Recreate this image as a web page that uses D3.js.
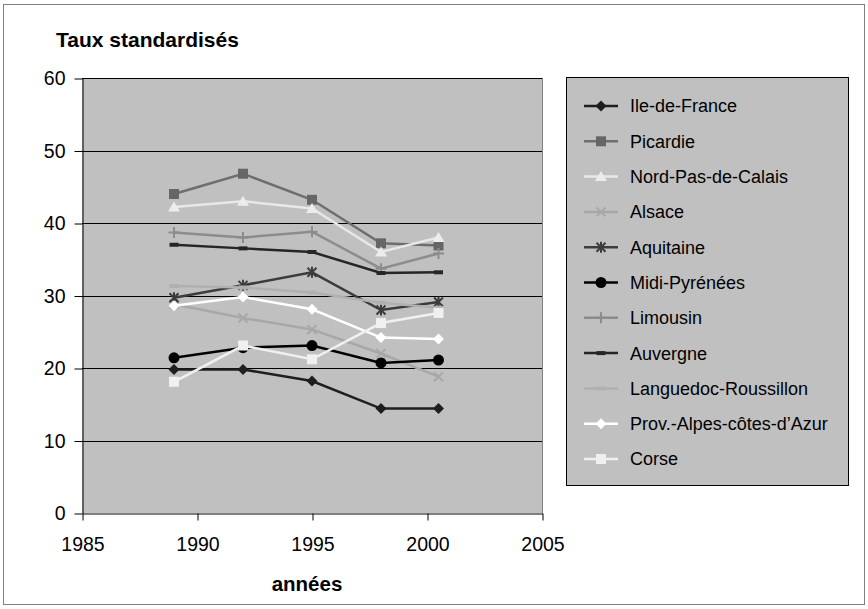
<!DOCTYPE html>
<html>
<head>
<meta charset="utf-8">
<script src="https://cdn.jsdelivr.net/npm/d3@7"></script>
<style>
  body { margin: 0; background: #fff; }
  svg { display: block; font-family: "Liberation Sans", Arial, sans-serif; }
</style>
</head>
<body>
<svg id="chart" width="868" height="609"></svg>
<script>
// Survey years
const years = [1989, 1992, 1995, 1998, 2000.5];

// Standardised rates per region
const ileDeFrance   = [19.8, 19.8, 18.2, 14.4, 14.4];
const picardie      = [44.0, 46.8, 43.2, 37.2, 36.9];
const nordPasCalais = [42.2, 43.0, 42.0, 36.0, 38.0];
const alsace        = [28.8, 26.9, 25.3, 22.0, 18.8];
const aquitaine     = [29.7, 31.4, 33.2, 28.0, 29.1];
const midiPyrenees  = [21.4, 22.8, 23.1, 20.7, 21.1];
const limousin      = [38.7, 38.0, 38.8, 33.7, 35.8];
const auvergne      = [37.0, 36.5, 36.0, 33.1, 33.2];
const languedoc     = [31.3, 31.1, 30.4, 29.0, 28.3];
const provAlpes     = [28.6, 29.8, 28.1, 24.2, 24.0];
const corse         = [18.1, 23.1, 21.2, 26.2, 27.6];

const regionNames = ["Ile-de-France", "Picardie", "Nord-Pas-de-Calais", "Alsace", "Aquitaine",
  "Midi-Pyrénées", "Limousin", "Auvergne", "Languedoc-Roussillon", "Prov.-Alpes-côtes-d’Azur", "Corse"];
const regionValues = [ileDeFrance, picardie, nordPasCalais, alsace, aquitaine,
  midiPyrenees, limousin, auvergne, languedoc, provAlpes, corse];

const xTicks = [1985, 1990, 1995, 2000, 2005];
const yTicks = [0, 10, 20, 30, 40, 50, 60];

// Line colour, marker colour and marker shape for each region
const styles = [
  { line: "#1e1e1e", mark: "#1e1e1e", shape: "diamond" },
  { line: "#6e6e6e", mark: "#666666", shape: "square" },
  { line: "#e8e8e8", mark: "#ececec", shape: "triangle" },
  { line: "#a8a8a8", mark: "#a8a8a8", shape: "x" },
  { line: "#3c3c3c", mark: "#3c3c3c", shape: "star" },
  { line: "#000000", mark: "#000000", shape: "circle" },
  { line: "#8c8c8c", mark: "#8c8c8c", shape: "plus" },
  { line: "#262626", mark: "#262626", shape: "dash" },
  { line: "#b0b0b0", mark: "#b0b0b0", shape: "dash" },
  { line: "#ffffff", mark: "#ffffff", shape: "diamond" },
  { line: "#f0f0f0", mark: "#f0f0f0", shape: "square" }
];

const svg = d3.select("#chart");

// Outer frame
svg.append("rect").attr("x", 3.5).attr("y", 4.5).attr("width", 861).attr("height", 600)
  .attr("fill", "#fff").attr("stroke", "#808080").attr("stroke-width", 1);

const x = d3.scaleLinear().domain([1985, 2005]).range([82, 542]);
const y = d3.scaleLinear().domain([0, 60]).range([513, 78]);

// Plot area
svg.append("rect")
  .attr("x", x(1985)).attr("y", y(60))
  .attr("width", x(2005) - x(1985)).attr("height", y(0) - y(60))
  .attr("fill", "#c0c0c0");

// Horizontal grid lines
svg.append("g").selectAll("line").data(yTicks.filter(t => t > 0)).join("line")
  .attr("x1", x(1985)).attr("x2", x(2005))
  .attr("y1", d => Math.round(y(d)) + 0.5).attr("y2", d => Math.round(y(d)) + 0.5)
  .attr("stroke", "#000").attr("stroke-width", 1);

// Right edge of plot area
svg.append("line").attr("x1", x(2005) + 0.5).attr("x2", x(2005) + 0.5)
  .attr("y1", y(60)).attr("y2", y(0)).attr("stroke", "#808080");

// Axes
const yAxis = svg.append("g").attr("transform", `translate(${x(1985) + 0.5},0.5)`)
  .call(d3.axisLeft(y).tickValues(yTicks).tickSize(8).tickPadding(9).tickSizeOuter(0));
const xAxis = svg.append("g").attr("transform", `translate(0.5,${y(0) + 0.5})`)
  .call(d3.axisBottom(x).tickValues(xTicks).tickFormat(d3.format("d")).tickSize(7).tickPadding(17).tickSizeOuter(0));
[yAxis, xAxis].forEach(a => {
  a.select(".domain").attr("stroke", "#000");
  a.selectAll(".tick line").attr("stroke", "#000");
  a.selectAll("text").attr("font-family", "Liberation Sans, Arial, sans-serif")
    .attr("font-size", 19.5).attr("fill", "#000");
});

// Axis titles
svg.append("text").attr("x", 56).attr("y", 47)
  .attr("font-size", 21).attr("font-weight", "bold").text("Taux standardisés");
svg.append("text").attr("x", 307).attr("y", 591).attr("text-anchor", "middle")
  .attr("font-size", 20.5).attr("font-weight", "bold").text("années");

// Marker shapes
function markerPath(shape) {
  switch (shape) {
    case "diamond": return "M0,-5.5L5.5,0L0,5.5L-5.5,0Z";
    case "square": return "M-5,-5H5V5H-5Z";
    case "triangle": return "M0,-5.5L6,4.5H-6Z";
    case "x": return "M-4.5,-4.5L4.5,4.5M4.5,-4.5L-4.5,4.5";
    case "star": return "M-4.5,-4.5L4.5,4.5M4.5,-4.5L-4.5,4.5M0,-5.5V5.5";
    case "plus": return "M-5.5,0H5.5M0,-5.5V5.5";
    case "dash": return "M-4.5,-2H4.5V2H-4.5Z";
    case "circle": return d3.symbol(d3.symbolCircle, 95)();
  }
}
function drawMarker(g, s, cx, cy) {
  const open = s.shape === "x" || s.shape === "star" || s.shape === "plus";
  g.append("path").attr("d", markerPath(s.shape))
    .attr("transform", `translate(${cx},${cy})`)
    .attr("fill", open ? "none" : s.mark)
    .attr("stroke", open ? s.mark : "none")
    .attr("stroke-width", open ? 2 : 0);
}

// Series lines and markers
const line = d3.line().x((d, i) => x(years[i])).y(d => y(d));
regionValues.forEach((vals, k) => {
  const s = styles[k];
  const g = svg.append("g");
  g.append("path").attr("d", line(vals)).attr("fill", "none")
    .attr("stroke", s.line).attr("stroke-width", 2.5);
  vals.forEach((v, i) => drawMarker(g, s, x(years[i]), y(v)));
});

// Legend
const legend = svg.append("g");
legend.append("rect").attr("x", 566.5).attr("y", 77.5).attr("width", 282).attr("height", 408)
  .attr("fill", "#c0c0c0").attr("stroke", "#000").attr("stroke-width", 1);
regionNames.forEach((name, k) => {
  const s = styles[k];
  const cy = 106 + k * 35.3;
  legend.append("line").attr("x1", 584).attr("x2", 618).attr("y1", cy).attr("y2", cy)
    .attr("stroke", s.line).attr("stroke-width", 2.5);
  drawMarker(legend, s, 601, cy);
  legend.append("text").attr("x", 630).attr("y", cy).attr("dy", "0.36em")
    .attr("font-size", 18).attr("fill", "#000").text(name);
});
</script>
</body>
</html>
